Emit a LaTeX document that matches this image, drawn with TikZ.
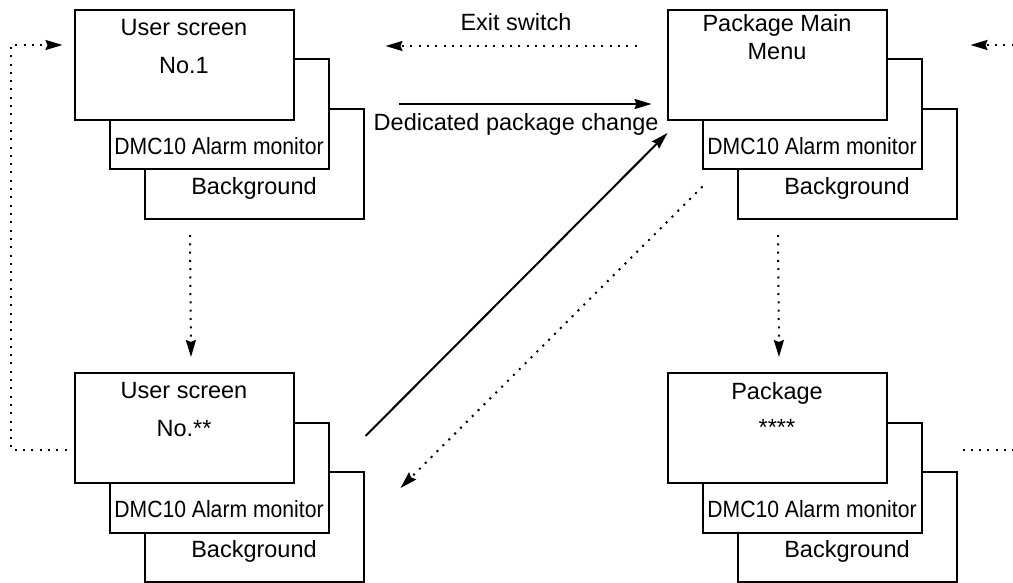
\documentclass[tikz,border=0pt]{standalone}
\usepackage{fontspec}
\setmainfont{Liberation Sans}
\usepackage{tikz}
\usetikzlibrary{arrows.meta,positioning}
\newcommand{\boxfont}{\fontsize{23.5}{38}\selectfont}
\tikzset{
  screenbox/.style={draw=black,fill=white,line width=2pt,minimum width=219pt,
    minimum height=110pt,inner sep=0pt},
  boxtext/.style={font=\boxfont,align=center,inner sep=0pt},
  movearrow/.style={-{Stealth[length=17pt,width=10pt,inset=2pt]},line width=2pt},
  dotarrow/.style={movearrow,dash pattern=on 2pt off 6.3pt},
  dotline/.style={line width=2pt,dash pattern=on 2pt off 6.3pt}
}

\begin{document}
\begin{tikzpicture}[x=1pt,y=1pt,on grid]
  \useasboundingbox (0,0) rectangle (1013,-583);
  % user screen No.1
  \node[screenbox] (us1c) at (254,-164) {};
  \node[screenbox,above left=49.5pt and 35pt of us1c] (us1b) {};
  \node[screenbox,above left=49.5pt and 35pt of us1b] (us1a) {};
  \node[boxtext,below=10pt of us1a.north] (us1t) {User screen\\No.1};
  \node[boxtext,above=16pt of us1b.south] (us1m) {\scalebox{0.9}[1]{DMC10 Alarm monitor}};
  \node[boxtext,above=20pt of us1c.south] (us1g) {Background};
  % package main menu
  \node[screenbox] (pmmc) at (847,-164) {};
  \node[screenbox,above left=49.5pt and 35pt of pmmc] (pmmb) {};
  \node[screenbox,above left=49.5pt and 35pt of pmmb] (pmma) {};
  \node[boxtext,below=5pt of pmma.north] (pmmt) {Package Main\\[-10pt]Menu};
  \node[boxtext,above=16pt of pmmb.south] (pmmm) {\scalebox{0.9}[1]{DMC10 Alarm monitor}};
  \node[boxtext,above=20pt of pmmc.south] (pmmg) {Background};
  % user screen No.**
  \node[screenbox] (usnc) at (254,-527) {};
  \node[screenbox,above left=49.5pt and 35pt of usnc] (usnb) {};
  \node[screenbox,above left=49.5pt and 35pt of usnb] (usna) {};
  \node[boxtext,below=10pt of usna.north] (usnt) {User screen\\No.**};
  \node[boxtext,above=16pt of usnb.south] (usnm) {\scalebox{0.9}[1]{DMC10 Alarm monitor}};
  \node[boxtext,above=20pt of usnc.south] (usng) {Background};
  % package ****
  \node[screenbox] (pkgc) at (847,-527) {};
  \node[screenbox,above left=49.5pt and 35pt of pkgc] (pkgb) {};
  \node[screenbox,above left=49.5pt and 35pt of pkgb] (pkga) {};
  \node[boxtext,below=10pt of pkga.north] (pkgt) {Package\\[-2pt]****};
  \node[boxtext,above=16pt of pkgb.south] (pkgm) {\scalebox{0.9}[1]{DMC10 Alarm monitor}};
  \node[boxtext,above=20pt of pkgc.south] (pkgg) {Background};
  % transitions
  \draw[dotarrow] ([shift={(-30,19)}]pmma.west) -- node[boxtext,pos=0.48,above=14pt] (exitlbl) {Exit switch} ([shift={(91,19)}]us1a.east);
  \draw[movearrow] ([shift={(104,-39)}]us1a.east) -- node[boxtext,pos=0.465,below=8pt] (chglbl) {Dedicated package change} ([shift={(-15,-39)}]pmma.west);
  \draw[movearrow] ([shift={(71,-8)}]usna.east) -- ([shift={(1,-12)}]pmma.south west);
  \draw[dotarrow] ([shift={(1,-16)}]pmmb.south west) -- ([shift={(106,-4)}]usna.south east);
  \draw[dotarrow] ([shift={(46.5,-15)}]us1c.south west) -- ([shift={(7,15)}]usna.north);
  \draw[dotarrow] ([shift={(41.5,-15)}]pmmc.south west) -- ([shift={(2,15)}]pkga.north);
  \draw[dotarrow] ([shift={(-7,-22)}]usna.west) -- ++(-55.5,0) |- ([shift={(-11,20)}]us1a.west);
  \draw[dotarrow] ([shift={(126,20)}]pmma.east) -- ([shift={(83,20)}]pmma.east);
  \draw[dotline] ([shift={(75,-22)}]pkga.east) -- ([shift={(126,-22)}]pkga.east);
\end{tikzpicture}
\end{document}
